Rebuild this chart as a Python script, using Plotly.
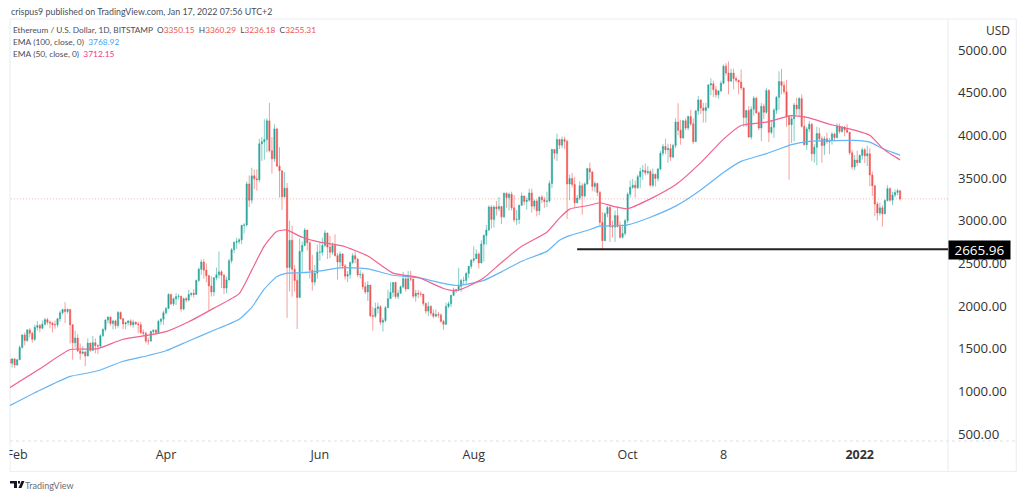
"""ETH/USD daily candles with two EMA lines, TradingView look (Plotly)."""

import pandas as pd
import plotly.graph_objects as go

# one line per month, Jan 29 2021 .. Jan 17 2022
closes = [
    1330, 1380, 1310,
    1370, 1515, 1660, 1595, 1720, 1680, 1610, 1750, 1770, 1740, 1785, 1840, 1810, 1800, 1780, 1780, 1850, 1920, 1960, 1935, 1960, 1780, 1570, 1625, 1475, 1445, 1460, 1415,
    1565, 1480, 1570, 1535, 1530, 1650, 1725, 1835, 1870, 1795, 1825, 1770, 1925, 1850, 1790, 1805, 1825, 1780, 1810, 1790, 1780, 1690, 1680, 1590, 1590, 1700, 1715, 1690, 1820, 1845, 1920,
    1970, 2135, 2025, 2085, 2110, 2115, 1965, 2085, 2070, 2135, 2150, 2135, 2300, 2430, 2515, 2420, 2355, 2235, 2165, 2330, 2365, 2400, 2360, 2210, 2305, 2530, 2660, 2745, 2755, 2775,
    2945, 2950, 3430, 3240, 3525, 3490, 3480, 3900, 3925, 3950, 4170, 3820, 3725, 4075, 3640, 3585, 3280, 3380, 2450, 2770, 2430, 2300, 2100, 2640, 2710, 2890, 2740, 2420, 2280, 2385, 2630,
    2630, 2710, 2855, 2690, 2630, 2710, 2590, 2515, 2610, 2470, 2350, 2370, 2510, 2590, 2550, 2365, 2370, 2225, 2165, 2245, 1885, 1880, 1970, 1990, 1810, 1830, 1980, 2085, 2160, 2275,
    2110, 2150, 2225, 2320, 2200, 2320, 2315, 2115, 2150, 2140, 2140, 2030, 1940, 1995, 1915, 1880, 1900, 1895, 1820, 1785, 1995, 2025, 2125, 2190, 2190, 2230, 2300, 2300, 2380, 2465, 2535,
    2555, 2610, 2505, 2725, 2825, 2890, 3160, 3015, 3160, 3140, 3165, 3045, 3320, 3270, 3310, 3150, 3010, 3015, 3180, 3290, 3225, 3240, 3325, 3170, 3230, 3115, 3275, 3245, 3225, 3230, 3435,
    3835, 3790, 3950, 3885, 3950, 3930, 3430, 3495, 3425, 3210, 3265, 3410, 3290, 3430, 3610, 3570, 3400, 3435, 3330, 2980, 2765, 3080, 3155, 2930, 2925, 3060, 2930, 2805, 2850, 3000,
    3310, 3390, 3415, 3385, 3515, 3575, 3590, 3560, 3575, 3415, 3545, 3495, 3605, 3790, 3870, 3830, 3845, 3745, 3880, 4155, 4060, 3970, 4170, 4085, 4220, 4135, 3925, 4285, 4415, 4320, 4290,
    4325, 4590, 4605, 4535, 4475, 4520, 4610, 4810, 4730, 4635, 4730, 4665, 4645, 4625, 4555, 4210, 4290, 3980, 4305, 4435, 4265, 4085, 4340, 4270, 4525, 4035, 4095, 4295, 4445, 4630,
    4585, 4510, 4220, 4125, 4195, 4355, 4310, 4430, 4105, 3890, 4075, 4130, 3785, 3860, 4020, 3960, 3880, 3960, 3925, 3940, 4015, 3975, 4105, 4045, 4095, 4065, 4035, 3795, 3630, 3710, 3680,
    3765, 3830, 3760, 3785, 3535, 3410, 3195, 3090, 3150, 3080, 3235, 3375, 3240, 3300, 3330, 3350, 3255,
]
highs = [
    1440, 1390, 1385,
    1380, 1540, 1670, 1690, 1730, 1740, 1700, 1780, 1825, 1790, 1830, 1860, 1860, 1830, 1810, 1830, 1860, 1945, 1965, 2045, 1970, 1965, 1785, 1710, 1670, 1560, 1530, 1475,
    1620, 1570, 1650, 1620, 1550, 1670, 1740, 1845, 1880, 1875, 1840, 1840, 1940, 1935, 1860, 1815, 1835, 1845, 1840, 1820, 1815, 1815, 1725, 1700, 1630, 1710, 1730, 1730, 1840, 1860, 1945,
    1990, 2150, 2145, 2100, 2150, 2140, 2120, 2100, 2105, 2190, 2155, 2200, 2310, 2450, 2545, 2550, 2500, 2365, 2350, 2340, 2450, 2640, 2420, 2375, 2345, 2555, 2680, 2760, 2800, 2795,
    2950, 2970, 3460, 3530, 3620, 3600, 3600, 3960, 3980, 4190, 4200, 4380, 3980, 4130, 4090, 3860, 3590, 3570, 3440, 3000, 2940, 2480, 2380, 2790, 2755, 2915, 2890, 2760, 2600, 2480, 2720,
    2740, 2800, 2890, 2860, 2820, 2745, 2840, 2620, 2640, 2620, 2490, 2410, 2520, 2620, 2640, 2560, 2420, 2390, 2280, 2290, 2240, 1990, 2040, 2040, 2010, 1860, 2000, 2190, 2280, 2280,
    2285, 2190, 2240, 2400, 2330, 2410, 2410, 2320, 2190, 2190, 2175, 2135, 2040, 2050, 2010, 1960, 1960, 1930, 1915, 1835, 2040, 2050, 2130, 2215, 2200, 2445, 2320, 2345, 2400, 2470, 2550,
    2700, 2665, 2630, 2770, 2840, 2950, 3180, 3180, 3180, 3230, 3280, 3160, 3330, 3330, 3330, 3340, 3300, 3125, 3185, 3330, 3285, 3275, 3375, 3375, 3250, 3250, 3285, 3300, 3280, 3340, 3470,
    3840, 3840, 4020, 3960, 3985, 3985, 3950, 3540, 3560, 3510, 3300, 3460, 3440, 3450, 3620, 3680, 3580, 3460, 3445, 3350, 3100, 3100, 3170, 3180, 3000, 3120, 3170, 2990, 2950, 3020,
    3330, 3470, 3490, 3470, 3540, 3620, 3650, 3670, 3640, 3600, 3610, 3550, 3620, 3820, 3900, 3960, 3900, 3900, 3900, 4200, 4375, 4180, 4180, 4200, 4230, 4300, 4200, 4300, 4460, 4420, 4380,
    4380, 4600, 4670, 4640, 4580, 4530, 4640, 4830, 4845, 4865, 4780, 4780, 4690, 4650, 4770, 4560, 4300, 4340, 4340, 4460, 4450, 4280, 4380, 4370, 4555, 4540, 4180, 4320, 4460, 4750,
    4780, 4630, 4650, 4240, 4240, 4380, 4440, 4450, 4480, 4230, 4100, 4170, 4145, 3895, 4100, 4090, 3990, 3990, 4030, 3970, 4040, 4030, 4140, 4135, 4110, 4110, 4130, 4040, 3830, 3770, 3820,
    3775, 3855, 3850, 3880, 3850, 3575, 3420, 3220, 3210, 3180, 3250, 3415, 3390, 3340, 3365, 3375, 3360,
]
lows = [
    1260, 1280, 1275,
    1300, 1370, 1500, 1540, 1580, 1630, 1570, 1590, 1710, 1690, 1730, 1770, 1780, 1740, 1690, 1735, 1750, 1815, 1900, 1800, 1910, 1560, 1370, 1510, 1460, 1370, 1430, 1295,
    1410, 1460, 1470, 1445, 1440, 1515, 1640, 1700, 1795, 1770, 1725, 1730, 1745, 1840, 1730, 1730, 1770, 1760, 1745, 1775, 1680, 1670, 1645, 1565, 1545, 1580, 1675, 1665, 1675, 1780, 1780,
    1900, 1965, 2010, 2000, 2010, 2075, 1935, 1950, 2040, 2055, 2110, 2100, 2130, 2280, 2365, 2320, 2280, 1950, 2110, 2115, 2300, 2320, 2210, 2140, 2150, 2300, 2500, 2620, 2670, 2725,
    2725, 2850, 2930, 3160, 3200, 3370, 3350, 3450, 3700, 3715, 3800, 3800, 3550, 3690, 3630, 3270, 3125, 3270, 1860, 2170, 2110, 2170, 1730, 2150, 2400, 2700, 2650, 2320, 2180, 2240, 2320,
    2530, 2590, 2690, 2550, 2560, 2600, 2580, 2310, 2440, 2430, 2310, 2280, 2320, 2490, 2500, 2340, 2320, 2190, 2140, 2060, 1870, 1710, 1860, 1910, 1780, 1700, 1810, 1975, 2090, 2105,
    2085, 2080, 2140, 2210, 2170, 2200, 2290, 2090, 2050, 2090, 2110, 2000, 1910, 1880, 1885, 1855, 1870, 1860, 1805, 1720, 1780, 1975, 1985, 2120, 2150, 2170, 2165, 2250, 2265, 2325, 2435,
    2510, 2550, 2440, 2500, 2520, 2720, 2880, 2910, 2920, 3060, 3110, 2960, 3030, 3150, 3120, 3120, 2980, 2950, 2960, 3175, 3180, 3130, 3220, 3095, 3130, 3050, 3065, 3205, 3150, 3160, 3210,
    3380, 3720, 3700, 3840, 3850, 3840, 3020, 3240, 3390, 3160, 3200, 3240, 3070, 3270, 3420, 3480, 3345, 3340, 3290, 2940, 2666, 2760, 3040, 2750, 2805, 2750, 2920, 2790, 2790, 2825,
    2970, 3270, 3370, 3270, 3370, 3380, 3480, 3530, 3540, 3400, 3390, 3400, 3460, 3590, 3760, 3780, 3680, 3700, 3730, 3850, 4000, 3890, 3960, 4060, 4060, 4110, 3900, 3925, 4240, 4250, 4150,
    4150, 4310, 4470, 4450, 4440, 4430, 4510, 4600, 4700, 4480, 4630, 4540, 4620, 4480, 4530, 4100, 4100, 3970, 3950, 4230, 4250, 4060, 3930, 4190, 4250, 3920, 4010, 3970, 4250, 4300,
    4480, 4480, 4100, 3480, 3910, 3930, 4240, 4230, 4090, 3880, 3830, 4040, 3700, 3680, 3650, 3930, 3680, 3770, 3900, 3780, 3890, 3930, 3960, 4020, 4030, 3990, 4030, 3770, 3600, 3590, 3640,
    3680, 3715, 3675, 3640, 3400, 3290, 3055, 3000, 3060, 2930, 3075, 3225, 3220, 3180, 3275, 3300, 3236,
]
first_open = 1375

ema_dates = [
    "2021-01-29", "2021-02-10", "2021-02-22", "2021-03-01", "2021-03-05", "2021-03-15", "2021-03-25",
    "2021-04-01", "2021-04-10", "2021-04-20", "2021-04-30", "2021-05-05", "2021-05-10", "2021-05-15",
    "2021-05-19", "2021-05-25", "2021-06-01", "2021-06-10", "2021-06-20", "2021-06-30", "2021-07-10",
    "2021-07-20", "2021-07-25", "2021-07-30", "2021-08-05", "2021-08-12", "2021-08-20", "2021-08-30",
    "2021-09-04", "2021-09-08", "2021-09-15", "2021-09-20", "2021-09-25", "2021-10-01", "2021-10-10",
    "2021-10-20", "2021-10-30", "2021-11-08", "2021-11-15", "2021-11-25", "2021-12-05", "2021-12-12",
    "2021-12-20", "2021-12-30", "2022-01-05", "2022-01-10", "2022-01-14", "2022-01-17",
]
ema_50 = [
    1042, 1265, 1490, 1495, 1500, 1610, 1658, 1700, 1815, 1975, 2145, 2420, 2705, 2875, 2890, 2805,
    2748, 2705, 2585, 2385, 2335, 2205, 2180, 2235, 2330, 2510, 2700, 2865, 3030, 3135, 3175, 3210,
    3170, 3140, 3255, 3420, 3680, 3955, 4115, 4155, 4230, 4205, 4130, 4060, 4000, 3850, 3765, 3712,
]
ema_100 = [
    831, 1012, 1175, 1215, 1241, 1352, 1420, 1475, 1590, 1715, 1845, 1985, 2200, 2345, 2385, 2390,
    2412, 2450, 2435, 2360, 2332, 2265, 2240, 2260, 2300, 2400, 2525, 2640, 2770, 2825, 2885, 2935,
    2940, 2950, 3040, 3170, 3360, 3565, 3695, 3785, 3890, 3930, 3938, 3940, 3920, 3845, 3800, 3768,
]

price_ticks = [500, 1000, 1500, 2000, 2500, 3000, 3500, 4000, 4500, 5000]
date_ticks = ["2021-02-01", "2021-04-01", "2021-06-01", "2021-08-01", "2021-10-01", "2021-11-08", "2022-01-01"]
date_labels = ["Feb", "Apr", "Jun", "Aug", "Oct", "8", "<b>2022</b>"]

last_close = 3255.31
support = 2665.96
support_start = "2021-09-11"

UP, DOWN = "#26a69a", "#ef5350"
GREY = "#4a4e5a"
FRAME = "#eceef2"
FONT = "Open Sans"
X_RANGE = ["2021-01-29 04:00", "2022-02-05 00:00"]
L, R, T, B = 7, 948, 19, 441
W, H = 1024, 497


def px(x):
    return (x - L) / (R - L)


def py(y):
    return (B - y) / (B - T)


opens = [first_open] + closes[:-1]
dates = pd.date_range("2021-01-29", periods=len(closes))

fig = go.Figure()
fig.add_trace(go.Scatter(x=["2021-01-20", "2022-02-10"], y=[last_close, last_close], mode="lines",
                         line=dict(color="rgba(239,83,80,0.45)", width=1, dash="1px,2px"),
                         hoverinfo="skip"))
fig.add_trace(go.Candlestick(
    x=dates, open=opens, high=highs, low=lows, close=closes,
    increasing=dict(line=dict(color="rgba(38,166,154,0.7)", width=0.8), fillcolor=UP),
    decreasing=dict(line=dict(color="rgba(239,83,80,0.7)", width=0.8), fillcolor=DOWN)))
fig.add_trace(go.Scatter(x=ema_dates, y=ema_100, mode="lines",
                         line=dict(color="#64b5f6", width=1.2, shape="spline", smoothing=0.5)))
fig.add_trace(go.Scatter(x=ema_dates, y=ema_50, mode="lines",
                         line=dict(color="#f0628f", width=1.2, shape="spline", smoothing=0.5)))
fig.add_trace(go.Scatter(x=[support_start, "2022-02-10"], y=[support, support], mode="lines",
                         line=dict(color="#222222", width=2)))

annotations = []


def label(text, x, y, size=8.4, color=GREY, font=None, **kw):
    annotations.append(dict(text=text, xref="paper", yref="paper", x=px(x), y=py(y),
                            xanchor="left", yanchor="middle", showarrow=False,
                            font=dict(family=font or "Lato", size=size, color=color), **kw))


label("crispus9 published on TradingView.com, Jan 17, 2022 07:56 UTC+2", 6, 11, size=8.85)
red = '<span style="color:#ef5350">%s</span>'
label("Ethereum / U.S. Dollar, 1D, BITSTAMP  O" + red % "3350.15" + "  H" + red % "3360.29"
      + "  L" + red % "3236.18" + "  C" + red % "3255.31", 8.5, 30, size=8.3)
label('EMA (100, close, 0)  <span style="color:#42a5f5">3768.92</span>', 8.5, 42)
label('EMA (50, close, 0)  <span style="color:#ec407a">3712.15</span>', 8.5, 54)
label("USD", 984, 31, size=12, color="#333333", font=FONT)
label("TradingView", 20, 485, size=9, color="#6a6d78")
label("2665.96", 948, 249.5, size=13.5, color="#ffffff", font=FONT, bgcolor="#000000",
      width=61, height=18, borderpad=0, align="center")

shapes = [
    dict(type="line", x0=px(7), x1=px(7), y0=py(19), y1=py(471.5)),
    dict(type="line", x0=px(7), x1=px(1016.5), y0=py(19), y1=py(19)),
    dict(type="line", x0=px(7), x1=px(1016.5), y0=py(471.5), y1=py(471.5)),
    dict(type="line", x0=px(1016.5), x1=px(1016.5), y0=py(19), y1=py(471.5)),
    dict(type="line", x0=px(948), x1=px(948), y0=py(19), y1=py(471.5)),
    dict(type="line", x0=px(7), x1=px(1016.5), y0=py(441), y1=py(441), dash="dot"),
]
for s in shapes:
    s.update(xref="paper", yref="paper", layer="below", line=dict(color=FRAME, width=1.2))
    if "dash" in s:
        s["line"].update(dash=s.pop("dash"), color="#dfe1e6", width=1)
# "Feb" is cut off by the left pane edge
shapes.append(dict(type="rect", xref="paper", yref="paper", x0=px(0), x1=px(6.5), y0=py(445), y1=py(468),
                   fillcolor="white", line=dict(width=0), layer="above"))
# logo: T bar, stem, dot and slash
for path in [
    [(7, 481), (14, 481), (14, 488), (11, 488), (11, 483.5), (7, 483.5)],
    [(15, 481), (17, 481), (17, 483.5), (15, 483.5)],
    [(18.5, 481), (21.5, 481), (18.5, 488), (15.5, 488)],
]:
    d = "M " + " L ".join(f"{px(x)},{py(y)}" for x, y in path) + " Z"
    shapes.append(dict(type="path", path=d, xref="paper", yref="paper",
                       fillcolor="#131722", line=dict(width=0), layer="above"))

fig.update_layout(
    width=W, height=H, autosize=False, showlegend=False,
    paper_bgcolor="white", plot_bgcolor="white",
    margin=dict(l=L, r=W - R, t=T, b=H - B),
    annotations=annotations, shapes=shapes,
    font=dict(family=FONT, color="#333333"),
    xaxis=dict(range=X_RANGE, rangeslider=dict(visible=False), showgrid=False, zeroline=False,
               tickmode="array", tickvals=date_ticks, ticktext=date_labels, ticks="",
               ticklabeloverflow="allow", ticklabelstandoff=4,
               tickfont=dict(size=12.5, color="#333333")),
    yaxis=dict(range=[418, 5363], side="right", showgrid=False, zeroline=False,
               tickmode="array", tickvals=price_ticks, ticktext=[f"{p:.2f}" for p in price_ticks],
               ticks="", ticklabelstandoff=9, tickfont=dict(size=13.2, color="#333333")),
)

fig.write_html("out.html", config={"displayModeBar": False},
               post_script="document.body.style.margin='0';")
